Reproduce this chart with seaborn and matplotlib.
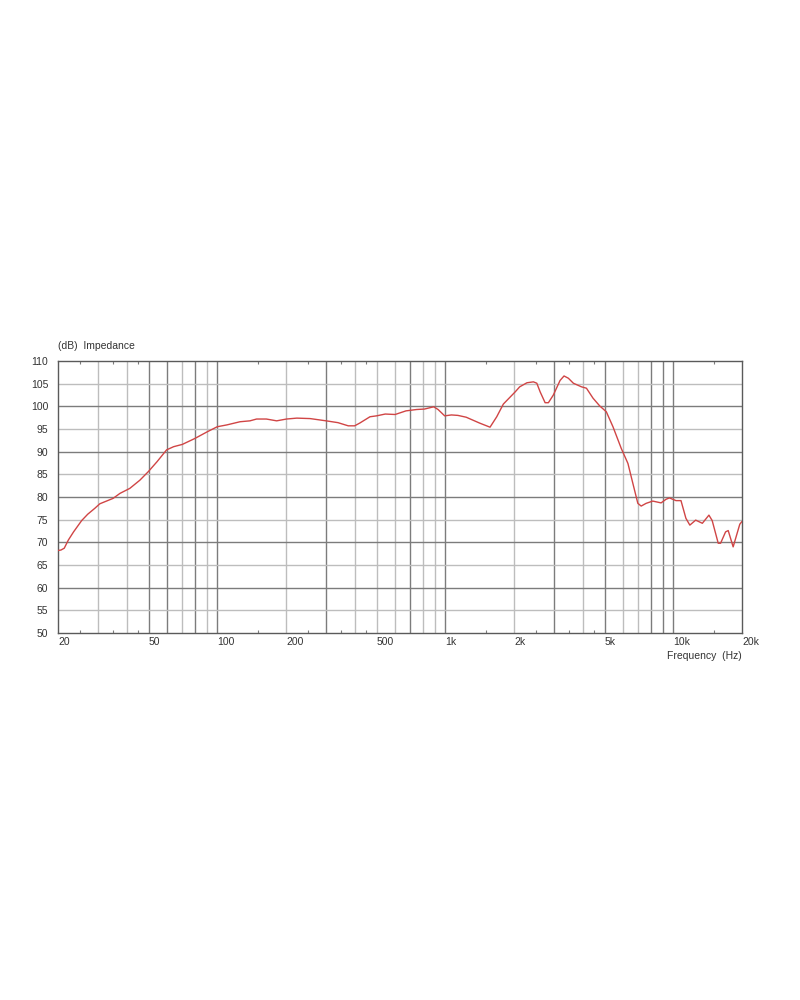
import numpy as np
import pandas as pd
import matplotlib
matplotlib.use("Agg")
import matplotlib.pyplot as plt
import seaborn as sns

# Impedance curve (Hz, dB)
freq_hz = [20, 20.6, 21.3, 22.2, 23.4, 25.4, 27.0, 29.0, 30.5, 34.9, 37.4, 41.3,
           45.7, 49.8, 54.4, 59.9, 64.3, 70.2, 79.6, 90.4, 99.9, 110, 125.7, 139,
           148.6, 164, 182, 201, 223, 255, 300, 338, 375, 400, 421, 467, 499, 545,
           602, 672, 748, 810, 889, 929, 993, 1063, 1135, 1234, 1414, 1570, 1680,
           1796, 2025, 2118, 2279, 2433, 2518, 2604, 2738, 2831, 2976, 3184, 3315,
           3463, 3642, 3955, 4157, 4442, 4751, 5081, 5433, 5910, 6320, 6643, 6985,
           7225, 7595, 8121, 8834, 9287, 9608, 10270, 10800, 11350, 11810, 12530,
           13400, 14320, 14800, 15730, 16110, 16940, 17400, 18290, 19560, 20000]
impedance_db = [68.2, 68.3, 68.7, 70.5, 72.3, 74.8, 76.2, 77.5, 78.5, 79.7, 80.8, 81.9,
                83.7, 85.6, 87.8, 90.4, 91.1, 91.6, 92.9, 94.4, 95.5, 95.9, 96.6, 96.8,
                97.2, 97.2, 96.8, 97.2, 97.4, 97.3, 96.8, 96.4, 95.7, 95.7, 96.3, 97.7, 97.9, 98.3,
                98.2, 99.0, 99.3, 99.4, 99.9, 99.3, 97.9, 98.1, 98.0, 97.6, 96.3, 95.4, 97.7,
                100.5, 103.2, 104.3, 105.2, 105.4, 105.1, 103.2, 100.8, 100.8, 102.5, 105.7, 106.7,
                106.2, 105.1, 104.3, 104.0, 101.8, 100.1, 98.8, 95.5, 90.7, 87.4, 83.0, 78.6,
                78.0, 78.6, 79.1, 78.7, 79.5, 79.8, 79.2, 79.2, 75.3, 73.8, 74.9,
                74.2, 76.0, 74.8, 69.8, 69.8, 72.3, 72.6, 69.0, 74.0, 74.6]

# axis ticks / grid
label_freqs = [20, 50, 100, 200, 500, 1000, 2000, 5000, 10000, 20000]
label_text = ["20", "50", "100", "200", "500", "1k", "2k", "5k", "10k", "20k"]
grid_freqs = [30, 40, 50, 60, 70, 80, 90, 100, 200, 300, 400, 500, 600, 700, 800, 900,
              1000, 2000, 3000, 4000, 5000, 6000, 7000, 8000, 9000, 10000]
light_vlines = [30, 40, 70, 90, 200, 400, 500, 600, 800, 900, 2000, 4000, 6000, 7000]
small_tick_freqs = [25, 35, 45, 150, 250, 350, 450, 1500, 2500, 3500, 4500, 15000]
db_ticks = list(range(50, 111, 5))

df = pd.DataFrame({"freq": freq_hz, "db": impedance_db})

sns.set_style("white")
plt.rcParams['font.family'] = ['Liberation Sans', 'DejaVu Sans']
text_color = "#333333"
dark_grid = "#7c7c7c"
light_grid = "#bdbdbd"

fig = plt.figure(figsize=(8, 10), dpi=100)
ax = fig.add_axes([0.0725, 0.367, 0.855, 0.272])

ax.set_xscale("log")
ax.set_xlim(20, 20000)
ax.set_ylim(50, 110)

# grid lines
for f in grid_freqs:
    c = light_grid if f in light_vlines else dark_grid
    ax.axvline(f, color=c, lw=1.0, zorder=0)
for d in db_ticks[1:-1]:
    c = dark_grid if d % 10 == 0 else light_grid
    ax.axhline(d, color=c, lw=1.0, zorder=0)

# small inward tick marks on top and bottom edges
xform = ax.get_xaxis_transform()
ax.vlines(small_tick_freqs, 0, 0.012, color=dark_grid, lw=0.8, transform=xform)
ax.vlines(small_tick_freqs, 0.988, 1, color=dark_grid, lw=0.8, transform=xform)

sns.lineplot(data=df, x="freq", y="db", color="#d04545", lw=1.0, ax=ax,
             sort=False, zorder=3)

ax.set_xticks(label_freqs)
ax.set_xticklabels(label_text)
ax.minorticks_off()
ax.set_yticks(db_ticks)
ax.set_yticklabels([str(d) for d in db_ticks])
ax.tick_params(axis="x", length=0, pad=3, labelsize=7.5, colors=text_color)
ax.tick_params(axis="y", length=0, pad=7, labelsize=7.5, colors=text_color)
for t in ax.get_xticklabels():
    t.set_ha("left")
ax.set_xlabel("")
ax.set_ylabel("")

for s in ax.spines.values():
    s.set_color("#5a5a5a")
    s.set_linewidth(1.0)
    s.set_visible(True)

fig.text(0.0725, 1 - 346 / 1000, "(dB)  Impedance", ha="left", va="center",
         fontsize=7.5, color=text_color)
fig.text(0.9275, 1 - 656 / 1000, "Frequency  (Hz)", ha="right", va="center",
         fontsize=7.5, color=text_color)

fig.savefig("out.png", dpi=100, facecolor="white")
